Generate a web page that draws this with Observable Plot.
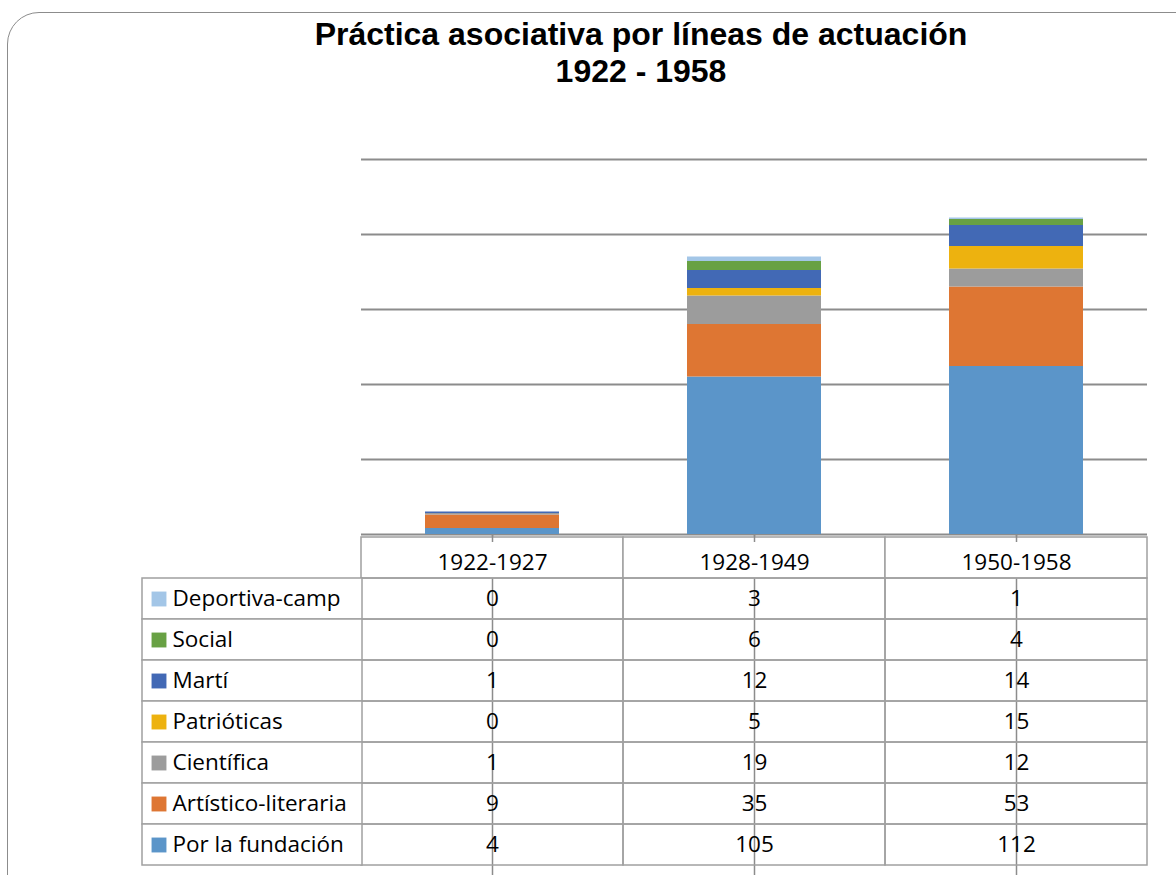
<!DOCTYPE html>
<html><head><meta charset="utf-8">
<script src="https://cdn.jsdelivr.net/npm/d3@7"></script>
<script src="https://cdn.jsdelivr.net/npm/@observablehq/plot@0.6"></script>
<style>
body{margin:0;width:1176px;height:875px;overflow:hidden;background:#fff;position:relative;font-family:"Open Sans",sans-serif;}
#frame{position:absolute;left:7px;top:12px;width:1300px;height:1000px;border:1.5px solid #8c8c8c;border-radius:32px;box-sizing:border-box;}
#title{position:absolute;left:0;width:1282px;top:16px;text-align:center;font:bold 32px/37px "Liberation Sans",Arial,sans-serif;color:#000;}
.abs{position:absolute}
svg{overflow:visible}
</style></head><body>
<div id="frame"></div>
<div id="title">Práctica asociativa por líneas de actuación<br>1922 - 1958</div>
<div id="table" class="abs" style="left:0;top:534px"></div>
<div id="legend" class="abs" style="left:141px;top:534px"></div>
<div id="bars" class="abs" style="left:0;top:0"></div>
<script>
// ---- data ----
const periods = ["1922-1927", "1928-1949", "1950-1958"];
// stacking order, bottom to top
const series = ["Por la fundación", "Artístico-literaria", "Científica", "Patrióticas", "Martí", "Social", "Deportiva-camp"];
const porLaFundacion = [4, 105, 112];
const artisticoLiteraria = [9, 35, 53];
const cientifica = [1, 19, 12];
const patrioticas = [0, 5, 15];
const marti = [1, 12, 14];
const social = [0, 6, 4];
const deportivaCamp = [0, 3, 1];
const yTicks = [0, 50, 100, 150, 200, 250];

const palette = ["#5b95c9", "#de7633", "#9c9c9c", "#edb20f", "#4269b5", "#68a144", "#a3c6e7"];
const valuesBySeries = [porLaFundacion, artisticoLiteraria, cientifica, patrioticas, marti, social, deportivaCamp];

const records = [];
series.forEach((s, si) => periods.forEach((p, pi) => records.push({series: s, period: p, value: valuesBySeries[si][pi]})));
const seriesTopDown = series.slice().reverse();
const rowKeys = ["__header__", ...seriesTopDown];
const gridColor = "#a0a0a0";
const fontFamily = "'Open Sans', sans-serif";
const fontSize = 22.5;

// ---- bars ----
const bars = Plot.plot({
  width: 1176, height: 544,
  marginLeft: 361, marginRight: 29, marginTop: 159, marginBottom: 10,
  style: {background: "transparent", overflow: "visible"},
  x: {domain: periods, paddingInner: 0.489, paddingOuter: 0.2445, label: null},
  y: {domain: [0, 250], axis: null},
  color: {domain: series, range: palette},
  marks: [
    Plot.ruleY(yTicks, {y: d => d, stroke: "#8c8c8c", strokeWidth: 2}),
    Plot.barY(records, {x: "period", y: "value", fill: "series"}),
    Plot.axisX({tickSize: 8, tickFormat: () => "", stroke: "#8c8c8c", strokeWidth: 1.5, label: null})
  ]
});
document.getElementById("bars").append(bars);

// ---- data table ----
const table = Plot.plot({
  width: 1176, height: 341,
  marginLeft: 361, marginRight: 29, marginTop: 0, marginBottom: 8,
  style: {background: "transparent", overflow: "visible", fontFamily},
  x: {domain: periods, padding: 0, axis: null},
  y: {domain: rowKeys, padding: 0, axis: null},
  marks: [
    Plot.ruleX(periods, {x: d => d, stroke: "#8c8c8c", strokeWidth: 1.5, insetBottom: -8}),
    Plot.cell(periods, {x: d => d, y: () => "__header__", fill: "white", stroke: gridColor, strokeWidth: 1.5}),
    Plot.cell(records, {x: "period", y: "series", fill: "none", stroke: gridColor, strokeWidth: 1.5}),
    Plot.text(periods, {x: d => d, y: () => "__header__", text: d => d, dy: 5, fontSize, fill: "#000", fontFamily}),
    Plot.text(records, {x: "period", y: "series", text: d => String(d.value), fontSize, fill: "#000", fontFamily})
  ]
});
document.getElementById("table").append(table);

// ---- legend column of the table (same vertical geometry as the table) ----
const legend = Plot.plot({
  width: 221, height: 341,
  marginLeft: 1, marginRight: 0, marginTop: 0, marginBottom: 8,
  style: {background: "transparent", overflow: "visible", fontFamily},
  y: {domain: rowKeys, padding: 0, axis: null},
  color: {domain: series, range: palette},
  marks: [
    Plot.cell(seriesTopDown, {y: d => d, fill: "white", stroke: gridColor, strokeWidth: 1.5}),
    Plot.dot(seriesTopDown, {y: d => d, frameAnchor: "left", dx: 16.5, symbol: "square", r: 8.4, fill: d => d}),
    Plot.text(seriesTopDown, {y: d => d, text: d => d, frameAnchor: "left", dx: 30, textAnchor: "start", fontSize, fill: "#000", fontFamily})
  ]
});
document.getElementById("legend").append(legend);
</script>
</body></html>
